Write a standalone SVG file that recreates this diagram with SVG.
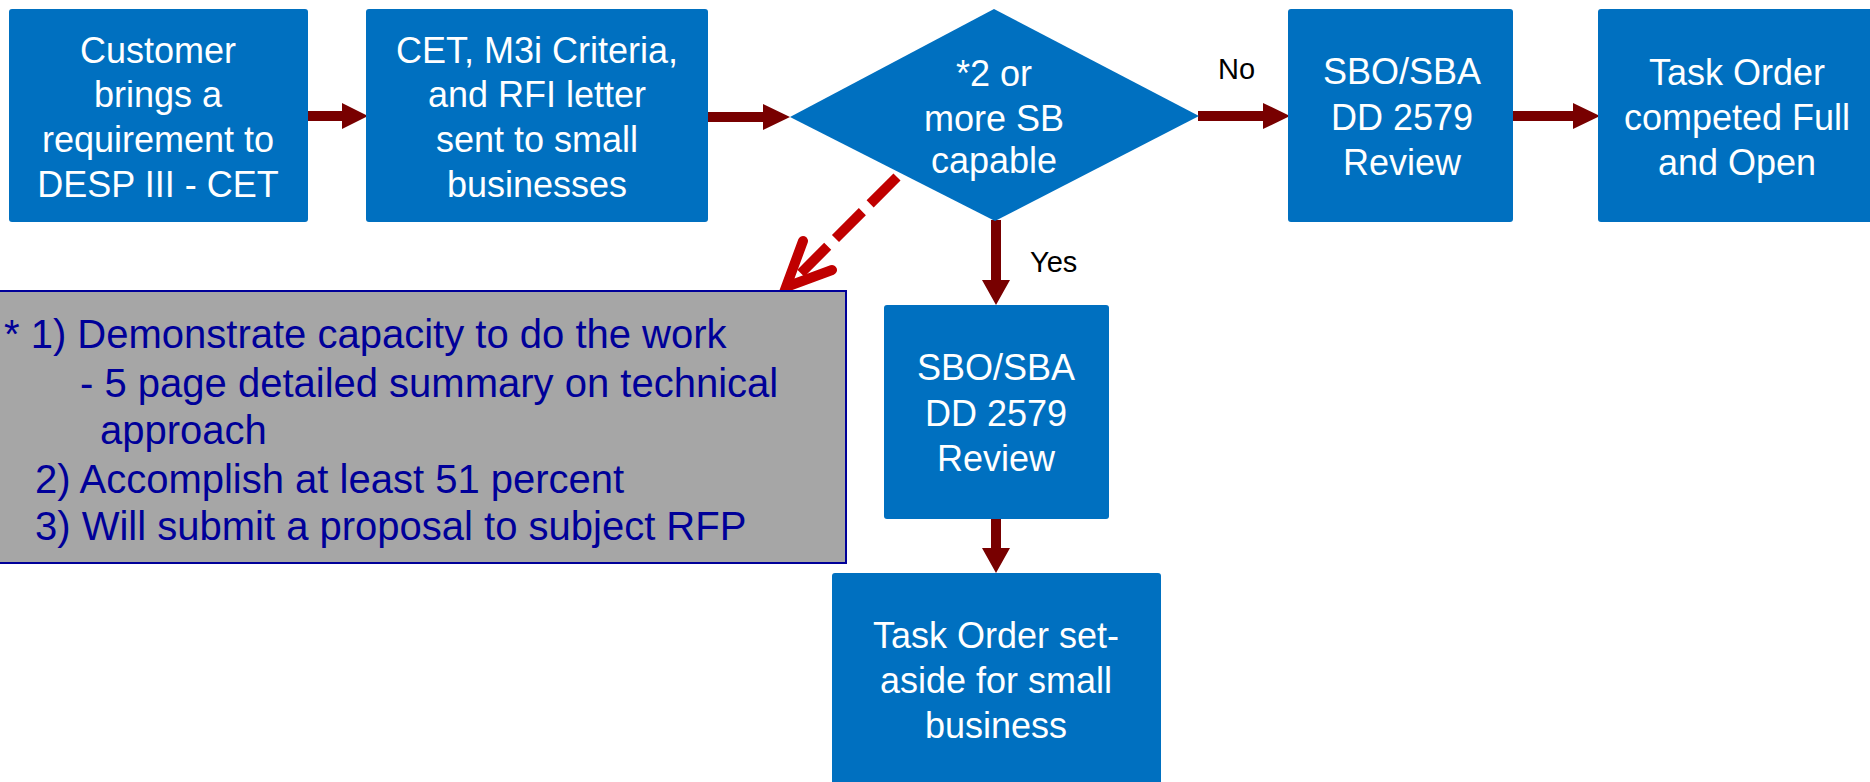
<svg xmlns="http://www.w3.org/2000/svg" width="1870" height="782" viewBox="0 0 1870 782">
<style>
.box{fill:#0070C0;}
.t{font-family:"Liberation Sans",Arial,sans-serif;font-size:36px;fill:#FFFFFF;text-anchor:middle;}
.lbl{font-family:"Liberation Sans",Arial,sans-serif;font-size:29px;fill:#000000;}
.note{font-family:"Liberation Sans",Arial,sans-serif;font-size:40px;fill:#000099;}
.arr{fill:#780000;}
</style>
<rect width="1870" height="782" fill="#FFFFFF"/>
<g id="connectors">
<polygon class="arr" points="306,111 342,111 342,103 368,116 342,129 342,121 306,121"/>
<polygon class="arr" points="705,112 763,112 763,104 790,117 763,130 763,122 705,122"/>
<polygon class="arr" points="1198,111 1263,111 1263,103 1290,116 1263,129 1263,121 1198,121"/>
<polygon class="arr" points="1511,111 1573,111 1573,103 1600,116 1573,129 1573,121 1511,121"/>
<polygon class="arr" points="991,220 1001,220 1001,280 1010,280 996,305 982,280 991,280"/>
<polygon class="arr" points="991,517 1001,517 1001,548 1010,548 996,573 982,548 991,548"/>
<line x1="897" y1="177" x2="797" y2="277" stroke="#C00000" stroke-width="10" stroke-dasharray="38 11"/>
<polyline points="803,241 786,287 832,270" fill="none" stroke="#C00000" stroke-width="10" stroke-linecap="round" stroke-linejoin="miter"/>
<text class="lbl" x="1218" y="79">No</text>
<text class="lbl" x="1030" y="272">Yes</text>
</g>
<g id="n1">
<rect class="box" x="9" y="9" width="299" height="213" rx="3"/>
<text class="t" x="158" y="63">Customer</text>
<text class="t" x="158" y="107">brings a</text>
<text class="t" x="158" y="152">requirement to</text>
<text class="t" x="158" y="197">DESP III - CET</text>
</g>
<g id="n2">
<rect class="box" x="366" y="9" width="342" height="213" rx="3"/>
<text class="t" x="537" y="63">CET, M3i Criteria,</text>
<text class="t" x="537" y="107">and RFI letter</text>
<text class="t" x="537" y="152">sent to small</text>
<text class="t" x="537" y="197">businesses</text>
</g>
<g id="n3">
<polygon class="box" points="790,117 994,9 1199,116 995,221"/>
<text class="t" x="994" y="86">*2 or</text>
<text class="t" x="994" y="131">more SB</text>
<text class="t" x="994" y="173">capable</text>
</g>
<g id="n4">
<rect class="box" x="1288" y="9" width="225" height="213" rx="3"/>
<text class="t" x="1402" y="84">SBO/SBA</text>
<text class="t" x="1402" y="130">DD 2579</text>
<text class="t" x="1402" y="175">Review</text>
</g>
<g id="n5">
<rect class="box" x="1598" y="9" width="280" height="213" rx="3"/>
<text class="t" x="1737" y="85">Task Order</text>
<text class="t" x="1737" y="130">competed Full</text>
<text class="t" x="1737" y="175">and Open</text>
</g>
<g id="n6">
<rect class="box" x="884" y="305" width="225" height="214" rx="3"/>
<text class="t" x="996" y="380">SBO/SBA</text>
<text class="t" x="996" y="426">DD 2579</text>
<text class="t" x="996" y="471">Review</text>
</g>
<g id="n7">
<rect class="box" x="832" y="573" width="329" height="215" rx="3"/>
<text class="t" x="996" y="648">Task Order set-</text>
<text class="t" x="996" y="693">aside for small</text>
<text class="t" x="996" y="738">business</text>
</g>
<g id="note">
<rect x="-2" y="291" width="848" height="272" fill="#A6A6A6" stroke="#000099" stroke-width="2"/>
<text class="note" x="4" y="348">* 1) Demonstrate capacity to do the work</text>
<text class="note" x="80" y="397">- 5 page detailed summary on technical</text>
<text class="note" x="100" y="444">approach</text>
<text class="note" x="35" y="493">2) Accomplish at least 51 percent</text>
<text class="note" x="35" y="540">3) Will submit a proposal to subject RFP</text>
</g>
</svg>
